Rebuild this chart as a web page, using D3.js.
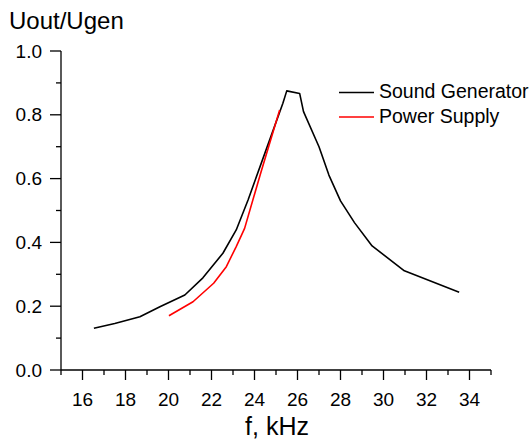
<!DOCTYPE html>
<html><head><meta charset="utf-8">
<script src="https://cdn.jsdelivr.net/npm/d3@7"></script>
<style>body{margin:0;background:#fff;} svg{display:block;font-family:"Liberation Sans",Arial,sans-serif;}</style>
</head><body>
<svg id="c" width="531" height="439"></svg>
<script>
const genF = [16.53,17.5,18.67,19.6,20.76,21.6,22.53,23.15,23.7,24.5,25.32,25.5,26.1,26.28,27.0,27.46,28.0,28.65,29.47,30.97,33.52];
const genV = [0.131,0.146,0.167,0.198,0.235,0.289,0.366,0.439,0.533,0.683,0.836,0.875,0.867,0.81,0.70,0.611,0.53,0.462,0.389,0.311,0.244];
const psF = [20.02,21.14,22.1,22.69,23.15,23.54,24.3,25.17];
const psV = [0.17,0.214,0.272,0.324,0.387,0.444,0.62,0.815];
const xTicks = [16,18,20,22,24,26,28,30,32,34];
const yTicks = [0.0,0.2,0.4,0.6,0.8,1.0];
const seriesNames = ["Sound Generator","Power Supply"];
const seriesColors = ["#000000","#ff0000"];

const svg = d3.select("#c");
const x = d3.scaleLinear().domain([15,35]).range([61,491]);
const y = d3.scaleLinear().domain([0,1]).range([370,51]);

// x axis
const xa = svg.append("g").attr("transform","translate(0,370)");
xa.append("line").attr("x1",x(15)).attr("x2",x(35)).attr("stroke","#000").attr("stroke-width",1.3);
d3.range(15,36,1).forEach(v=>{
  const major = v%2===0;
  xa.append("line").attr("x1",x(v)).attr("x2",x(v)).attr("y1",0).attr("y2",major?10:5).attr("stroke","#000").attr("stroke-width",1.3);
});
xTicks.forEach(v=>{
  xa.append("text").attr("x",x(v)).attr("y",36).attr("text-anchor","middle").attr("font-size",19).text(v);
});
svg.append("text").attr("x",x(25)+1).attr("y",435).attr("text-anchor","middle").attr("font-size",25).text("f, kHz");

// y axis
const ya = svg.append("g").attr("transform","translate(61,0)");
ya.append("line").attr("y1",y(0)).attr("y2",y(1)).attr("stroke","#000").attr("stroke-width",1.3);
d3.range(0,11).forEach(i=>{
  const v=i/10, major=i%2===0;
  ya.append("line").attr("x1",major?-11:-5).attr("x2",0).attr("y1",y(v)).attr("y2",y(v)).attr("stroke","#000").attr("stroke-width",1.3);
});
yTicks.forEach(v=>{
  ya.append("text").attr("x",-19).attr("y",y(v)+6.5).attr("text-anchor","end").attr("font-size",19).text(v.toFixed(1));
});
svg.append("text").attr("x",9).attr("y",29).attr("font-size",24).text("Uout/Ugen");

// lines
const line = d3.line().x(d=>x(d[0])).y(d=>y(d[1]));
const gen = genF.map((f,i)=>[f,genV[i]]);
const ps = psF.map((f,i)=>[f,psV[i]]);
svg.append("path").datum(gen).attr("d",line).attr("fill","none").attr("stroke",seriesColors[0]).attr("stroke-width",1.6).attr("stroke-linejoin","round");
svg.append("path").datum(ps).attr("d",line).attr("fill","none").attr("stroke",seriesColors[1]).attr("stroke-width",1.6).attr("stroke-linejoin","round");

// legend
seriesNames.forEach((n,i)=>{
  const yy = 92.5 + i*24.5;
  svg.append("line").attr("x1",339).attr("x2",374).attr("y1",yy).attr("y2",yy).attr("stroke",seriesColors[i]).attr("stroke-width",1.5);
  svg.append("text").attr("x",379).attr("y",yy+5.5).attr("font-size",19.5).text(n);
});
</script>
</body></html>
